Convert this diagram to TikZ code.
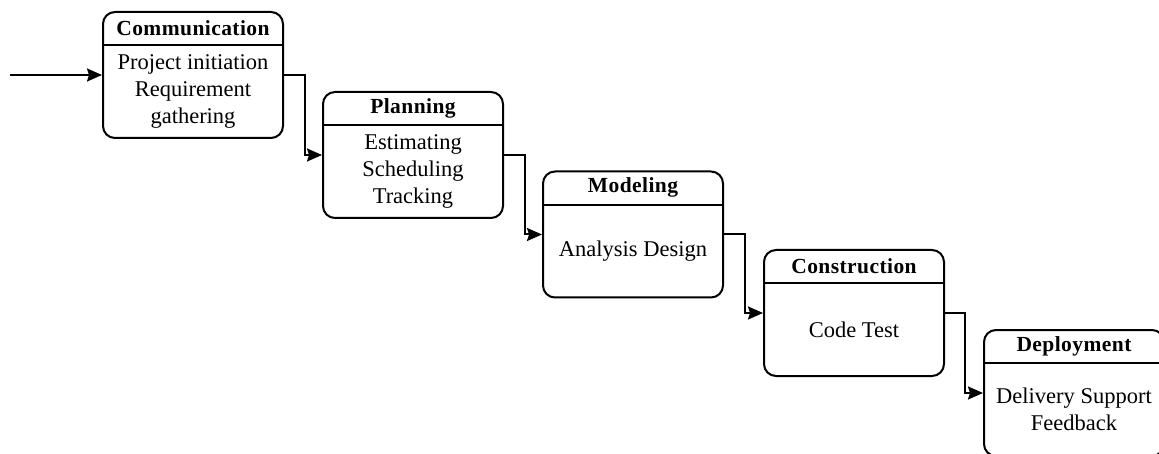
\documentclass[tikz,border=0pt]{standalone}
\usepackage{fontspec}
\setmainfont{Liberation Serif}
\usetikzlibrary{positioning, arrows.meta}
\tikzset{
    stagebox/.style={draw, line width=2pt, rounded corners=12pt, minimum width=180pt, minimum height=126pt, inner sep=0pt},
    stagetitle/.style={minimum width=180pt, minimum height=34pt, inner sep=0pt, font=\fontsize{21.5}{26}\selectfont\bfseries\addfontfeatures{LetterSpace=2}},
    stagetext/.style={minimum width=180pt, minimum height=92pt, inner sep=0pt, align=center, font=\fontsize{22.5}{27}\selectfont},
    divider/.style={line width=2pt},
    flow/.style={line width=2pt, -{Stealth[length=15pt, width=13pt, inset=2pt]}}
}
\begin{document}
\begin{tikzpicture}[x=1pt, y=-1pt]
                \useasboundingbox (0,0) rectangle (1159,454);
                % stages
                \node [stagebox] (comm) at (193,75) {};
                \node [stagetitle, anchor=north] (comm-t) at (comm.north) {Communication};
                \node [stagetext, below=0pt of comm-t] (comm-b) {Project initiation\\Requirement\\gathering};
                \node [stagebox] (plan) at (413,155) {};
                \node [stagetitle, anchor=north] (plan-t) at (plan.north) {Planning};
                \node [stagetext, below=0pt of plan-t] (plan-b) {Estimating\\Scheduling\\Tracking};
                \node [stagebox] (model) at (633,234.5) {};
                \node [stagetitle, anchor=north] (model-t) at (model.north) {Modeling};
                \node [stagetext, below=0pt of model-t] (model-b) {Analysis Design};
                \node [stagebox] (cons) at (854,313) {};
                \node [stagetitle, anchor=north] (cons-t) at (cons.north) {Construction};
                \node [stagetext, below=0pt of cons-t] (cons-b) {Code Test};
                \node [stagebox] (deploy) at (1074,393) {};
                \node [stagetitle, anchor=north] (deploy-t) at (deploy.north) {Deployment};
                \node [stagetext, below=0pt of deploy-t] (deploy-b) {Delivery Support\\Feedback};
                % header lines
                \foreach \s in {comm, plan, model, cons, deploy}
                    \draw [divider] (\s-t.south west) -- (\s-t.south east);
                % flow
                \coordinate (start) at (10,75);
                \draw [flow] (start) -- (comm.west);
                \draw [flow] (comm.east) -- ++(21,0) |- (plan.west);
                \draw [flow] (plan.east) -- ++(21,0) |- (model.west);
                \draw [flow] (model.east) -- ++(21,0) |- (cons.west);
                \draw [flow] (cons.east) -- ++(20,0) |- (deploy.west);
      \end{tikzpicture}
\end{document}
